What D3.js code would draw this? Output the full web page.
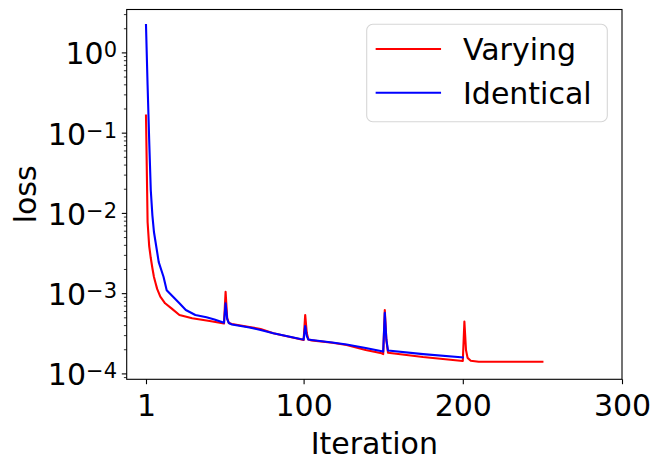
<!DOCTYPE html>
<html>
<head>
<meta charset="utf-8">
<script src="https://cdn.jsdelivr.net/npm/d3@7"></script>
<style>
  html, body { margin: 0; padding: 0; background: #fff; }
  svg { display: block; }
  text { font-family: "DejaVu Sans", sans-serif; fill: #000; }
</style>
</head>
<body>
<svg id="chart" width="661" height="462"></svg>
<script>
// ---- data ----
const iterVarying = [1,2,3,4,5,6,7,8,10,13,17,22,30,41,50,51,52,53,55,66,73,81,98,100,101,102,103,105,118,127,139,149,150,151,152,153,175,200,201,202,203,205,210,250];
const lossVarying = [0.163,0.0077,0.00387,0.00274,0.00206,0.00159,0.00134,0.00113,0.000903,0.000748,0.000647,0.000535,0.000486,0.00045,0.000418,0.00104,0.00049,0.000425,0.000413,0.000379,0.000357,0.000316,0.000266,0.000261,0.000535,0.000319,0.000264,0.000258,0.000241,0.000226,0.000196,0.000178,0.000174,0.000617,0.000261,0.000181,0.00016,0.000143,0.000443,0.000196,0.000156,0.000144,0.00014,0.00014];

const iterIdentical = [1,2,3,4,5,6,7,9,12,14,18,22,26,32,39,44,50,51,52,53,55,66,73,81,98,100,101,102,103,105,118,127,139,150,151,152,153,175,200];
const lossIdentical = [2.19,0.393,0.081,0.0193,0.0094,0.00578,0.00434,0.00244,0.0016,0.00109,0.000903,0.000748,0.000617,0.000535,0.0005,0.00047,0.000428,0.000748,0.000476,0.000425,0.000407,0.000373,0.000348,0.000316,0.000268,0.000264,0.00039,0.000292,0.000264,0.000261,0.000243,0.000229,0.000207,0.000187,0.00057,0.000261,0.000193,0.000174,0.000158];

const seriesNames = ["Varying", "Identical"];
const seriesColors = ["#ff0000", "#0000ff"];
const xTickValues = [1, 100, 200, 300];
const yTickExponents = [0, -1, -2, -3, -4];
const xLabel = "Iteration";
const yLabel = "loss";

// ---- layout ----
const svg = d3.select("#chart");
const L = 126.7, R = 622, T = 9.5, B = 379.3;
const FS = 30;

const x = d3.scaleLinear().domain([-11.12, 300]).range([L, R]);
const y = d3.scaleLog().domain([Math.pow(10, -4.0735), Math.pow(10, 0.5346)]).range([B, T]);

// lines
const line = d3.line().x(d => x(d[0])).y(d => y(d[1]));
const dataV = iterVarying.map((it, i) => [it, lossVarying[i]]);
const dataI = iterIdentical.map((it, i) => [it, lossIdentical[i]]);
const plot = svg.append("g");
[dataV, dataI].forEach((d, k) => {
  plot.append("path").datum(d)
    .attr("d", line)
    .attr("fill", "none")
    .attr("stroke", seriesColors[k])
    .attr("stroke-width", 2.1)
    .attr("stroke-linejoin", "round")
    .attr("stroke-linecap", "square");
});

// frame
svg.append("rect").attr("x", L).attr("y", T).attr("width", R - L).attr("height", B - T)
  .attr("fill", "none").attr("stroke", "#000").attr("stroke-width", 1.1);

// x axis
const xAxis = d3.axisBottom(x).tickValues(xTickValues).tickSize(4.9).tickSizeOuter(0).tickFormat(d3.format("d"));
const gx = svg.append("g").attr("transform", `translate(0,${B})`).call(xAxis);
gx.select(".domain").remove();
gx.selectAll(".tick line").attr("stroke", "#000").attr("stroke-width", 1.1);
gx.selectAll(".tick text").attr("y", 36.7).attr("dy", 0).style("font-size", FS + "px")
  .style("font-family", "DejaVu Sans, sans-serif").attr("fill", "#000");

// y axis major
const majorVals = yTickExponents.map(e => Math.pow(10, e));
const yAxis = d3.axisLeft(y).tickValues(majorVals).tickSize(4.9).tickSizeOuter(0).tickFormat("");
const gy = svg.append("g").attr("transform", `translate(${L},0)`).call(yAxis);
gy.select(".domain").remove();
gy.selectAll(".tick line").attr("stroke", "#000").attr("stroke-width", 1.1);

// y axis minor
const minorVals = [];
for (let e = -5; e <= 0; e++) for (let m = 2; m <= 9; m++) {
  const v = m * Math.pow(10, e);
  if (v >= y.domain()[0] && v <= y.domain()[1]) minorVals.push(v);
}
const yMinor = d3.axisLeft(y).tickValues(minorVals).tickSize(2.8).tickSizeOuter(0).tickFormat("");
const gym = svg.append("g").attr("transform", `translate(${L},0)`).call(yMinor);
gym.select(".domain").remove();
gym.selectAll(".tick line").attr("stroke", "#000").attr("stroke-width", 0.8);

// y tick labels with superscripts
yTickExponents.forEach(e => {
  const ty = y(Math.pow(10, e));
  const t = svg.append("text").attr("x", 117).attr("y", ty + 12)
    .attr("text-anchor", "end").style("font-size", FS + "px");
  t.append("tspan").text("10");
  t.append("tspan").attr("dy", -7).style("font-size", (FS * 0.7) + "px")
    .text(e === 0 ? "0" : "\u2212" + Math.abs(e));
});

// axis labels
svg.append("text").attr("x", (L + R) / 2).attr("y", 454).attr("text-anchor", "middle")
  .style("font-size", FS + "px").text(xLabel);
svg.append("text").attr("transform", `translate(36,${(T + B) / 2}) rotate(-90)`)
  .attr("text-anchor", "middle").style("font-size", FS + "px").text(yLabel);

// legend
const lg = svg.append("g");
lg.append("rect").attr("x", 366.7).attr("y", 24.3).attr("width", 240.6).attr("height", 97.4)
  .attr("rx", 6).attr("ry", 6).attr("fill", "#fff").attr("fill-opacity", 0.8)
  .attr("stroke", "#d6d6d6").attr("stroke-width", 1.1);
const legY = [49, 92.7];
seriesNames.forEach((n, k) => {
  lg.append("line").attr("x1", 376.7).attr("x2", 440).attr("y1", legY[k]).attr("y2", legY[k])
    .attr("stroke", seriesColors[k]).attr("stroke-width", 2.1).attr("stroke-linecap", "square");
  lg.append("text").attr("x", 463).attr("y", legY[k] + 11.2).style("font-size", FS + "px").text(n);
});
</script>
</body>
</html>
